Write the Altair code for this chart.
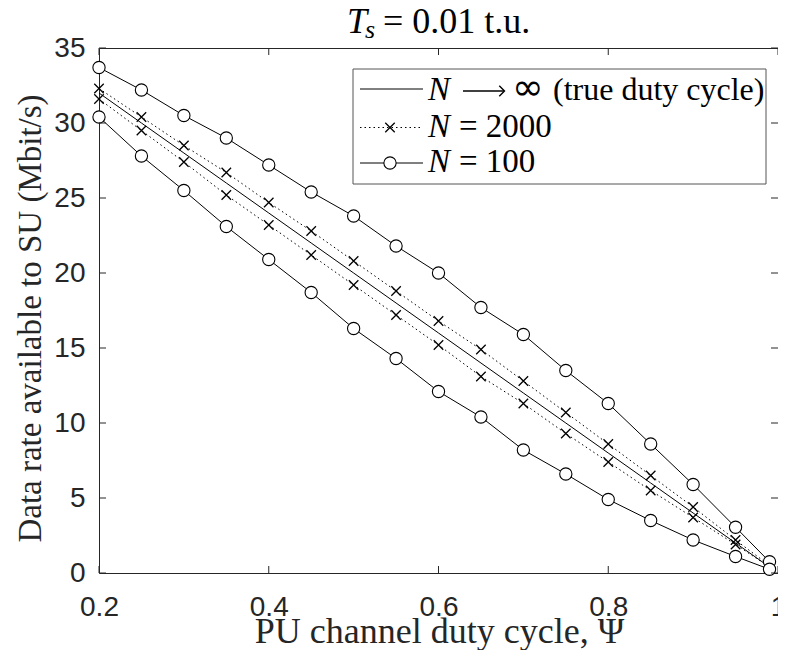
import altair as alt
import pandas as pd

# ---------------- data ----------------
psi = [0.2, 0.25, 0.3, 0.35, 0.4, 0.45, 0.5, 0.55, 0.6, 0.65, 0.7, 0.75, 0.8, 0.85, 0.9, 0.95, 0.99]

rate_true = [32.0, 30.0, 28.0, 26.0, 24.0, 22.0, 20.0, 18.0, 16.0, 14.0, 12.0, 10.0, 8.0, 6.0, 4.0, 2.0, 0.4]
rate_n2000_hi = [32.3, 30.4, 28.5, 26.7, 24.7, 22.8, 20.8, 18.8, 16.8, 14.9, 12.8, 10.7, 8.6, 6.5, 4.4, 2.2, 0.5]
rate_n2000_lo = [31.6, 29.5, 27.4, 25.2, 23.2, 21.2, 19.2, 17.2, 15.2, 13.1, 11.3, 9.3, 7.4, 5.5, 3.7, 1.9, 0.4]
rate_n100_hi = [33.7, 32.2, 30.5, 29.0, 27.2, 25.4, 23.8, 21.8, 20.0, 17.7, 15.9, 13.5, 11.3, 8.6, 5.9, 3.05, 0.75]
rate_n100_lo = [30.4, 27.8, 25.5, 23.1, 20.9, 18.7, 16.3, 14.3, 12.1, 10.4, 8.2, 6.6, 4.9, 3.5, 2.2, 1.1, 0.25]

x_ticks = [0.2, 0.4, 0.6, 0.8, 1.0]
y_ticks = [0, 5, 10, 15, 20, 25, 30, 35]

x_title = "PU channel duty cycle, Ψ"
y_title = "Data rate available to SU (Mbit/s)"

# ---------------- build tables ----------------
rows = []
for name, vals in [("true", rate_true), ("n2000_hi", rate_n2000_hi), ("n2000_lo", rate_n2000_lo),
                   ("n100_hi", rate_n100_hi), ("n100_lo", rate_n100_lo)]:
    for p, v in zip(psi, vals):
        rows.append({"psi": p, "rate": v, "series": name})
df = pd.DataFrame(rows)
xt = pd.DataFrame({"psi": x_ticks})
yt = pd.DataFrame({"rate": y_ticks})
one = pd.DataFrame({"k": [0]})

W, H = 679, 525
AX = "#262626"
SERIF = "Liberation Serif"
SANS = "Liberation Sans"
XSHAPE = "M-1,-1L1,1M1,-1L-1,1"
HEAD = "M-1,-1L0,0L-1,1"

xs = alt.Scale(domain=[0.2, 1.0], nice=False, zero=False)
ys = alt.Scale(domain=[0, 35], nice=False, zero=False)

x_axis = alt.Axis(
    values=x_ticks, format="~g", grid=False, ticks=False, domain=False,
    labelFont=SANS, labelFontSize=28, labelColor=AX, labelPadding=20,
    labelFlush=False, labelOverlap=False,
    title=x_title, titleFont=SERIF, titleFontSize=36, titleFontWeight="normal",
    titleColor=AX, titleX=340, titleY=69, titleBaseline="alphabetic", titleAlign="center")
y_axis = alt.Axis(
    values=y_ticks, format="d", grid=False, ticks=False, domain=False,
    labelFont=SANS, labelFontSize=28, labelColor=AX, labelPadding=14,
    labelFlush=False, labelOverlap=False,
    title=y_title, titleFont=SERIF, titleFontSize=33, titleFontWeight="normal",
    titleColor=AX, titleX=-59, titleY=270, titleAngle=270,
    titleBaseline="alphabetic", titleAlign="center")

x_enc = alt.X("psi:Q", scale=xs, axis=x_axis)
y_enc = alt.Y("rate:Q", scale=ys, axis=y_axis)

base = alt.Chart(df)

line_true = base.transform_filter(alt.datum.series == "true").mark_line(
    color="black", strokeWidth=1).encode(x=x_enc, y=y_enc)
line_2000 = base.transform_filter(
    alt.FieldOneOfPredicate(field="series", oneOf=["n2000_hi", "n2000_lo"])).mark_line(
    color="black", strokeWidth=1, strokeDash=[1.5, 3]).encode(x=x_enc, y=y_enc, detail="series:N")
line_100 = base.transform_filter(
    alt.FieldOneOfPredicate(field="series", oneOf=["n100_hi", "n100_lo"])).mark_line(
    color="black", strokeWidth=1).encode(x=x_enc, y=y_enc, detail="series:N")
pts_2000 = base.transform_filter(
    alt.FieldOneOfPredicate(field="series", oneOf=["n2000_hi", "n2000_lo"])).mark_point(
    shape=XSHAPE, size=90, filled=False, stroke="black", strokeWidth=1.3, opacity=1).encode(
    x=x_enc, y=y_enc)
pts_100 = base.transform_filter(
    alt.FieldOneOfPredicate(field="series", oneOf=["n100_hi", "n100_lo"])).mark_point(
    shape="circle", size=150, filled=True, fill="white", stroke="black", strokeWidth=1.1,
    opacity=1, fillOpacity=1).encode(x=x_enc, y=y_enc)

# inward ticks (MATLAB box style)
tick_len = 7
tb = alt.Chart(xt).mark_rule(color=AX, strokeWidth=1).encode(
    x=x_enc, y=alt.value(H), y2=alt.value(H - tick_len))
tt = alt.Chart(xt).mark_rule(color=AX, strokeWidth=1).encode(
    x=x_enc, y=alt.value(0), y2=alt.value(tick_len))
tl = alt.Chart(yt).mark_rule(color=AX, strokeWidth=1).encode(
    y=y_enc, x=alt.value(0), x2=alt.value(tick_len))
tr = alt.Chart(yt).mark_rule(color=AX, strokeWidth=1).encode(
    y=y_enc, x=alt.value(W), x2=alt.value(W - tick_len))


def txt(s, x, y, size, italic=False, font=SERIF):
    return alt.Chart(one).mark_text(
        font=font, fontSize=size, fontStyle="italic" if italic else "normal",
        align="left", baseline="alphabetic", color="black").encode(
        x=alt.value(x), y=alt.value(y), text=alt.value(s))


# title  T_s = 0.01 t.u.
title_layers = [
    txt("T", 248, -15, 36, italic=True),
    txt("s", 266, -10, 26, italic=True),
    txt("= 0.01 t.u.", 284, -15, 36),
]

# legend
leg_box = alt.Chart(one).mark_rect(fill="white", stroke="#555555", strokeWidth=1).encode(
    x=alt.value(254), x2=alt.value(667), y=alt.value(21), y2=alt.value(136))
LX1, LX2, LM, LT = 261, 324, 291, 329
r1, r2, r3 = 41, 79.5, 115
leg_layers = [
    leg_box,
    alt.Chart(one).mark_rule(color="black", strokeWidth=1).encode(
        x=alt.value(LX1), x2=alt.value(LX2), y=alt.value(r1)),
    alt.Chart(one).mark_rule(color="black", strokeWidth=1, strokeDash=[1.5, 3]).encode(
        x=alt.value(LX1), x2=alt.value(LX2), y=alt.value(r2)),
    alt.Chart(one).mark_point(shape=XSHAPE, size=90, filled=False, stroke="black",
                              strokeWidth=1.3, opacity=1).encode(
        x=alt.value(LM), y=alt.value(r2)),
    alt.Chart(one).mark_rule(color="black", strokeWidth=1).encode(
        x=alt.value(LX1), x2=alt.value(LX2), y=alt.value(r3)),
    alt.Chart(one).mark_point(shape="circle", size=150, filled=True, fill="white",
                              stroke="black", strokeWidth=1.1, opacity=1).encode(
        x=alt.value(LM), y=alt.value(r3)),
    txt("N", LT, r1 + 11, 33, italic=True),
    # arrow  →
    alt.Chart(one).mark_rule(color="black", strokeWidth=1.4).encode(
        x=alt.value(364), x2=alt.value(405), y=alt.value(r1 + 2)),
    alt.Chart(one).mark_point(shape=HEAD, size=110, filled=False, stroke="black",
                              strokeWidth=1.4, opacity=1).encode(
        x=alt.value(405.5), y=alt.value(r1 + 2)),
    txt("∞", 413, r1 + 11, 38, font="DejaVu Sans"),
    txt("(true duty cycle)", 454, r1 + 11, 32),
    txt("N", LT, r2 + 9.5, 33, italic=True),
    txt("= 2000", 360, r2 + 9.5, 33),
    txt("N", LT, r3 + 9, 33, italic=True),
    txt("= 100", 360, r3 + 9, 33),
]

chart = alt.layer(
    line_true, line_2000, line_100, pts_2000, pts_100,
    tb, tt, tl, tr, *title_layers, *leg_layers
).properties(
    width=W, height=H,
    padding={"left": 91, "top": 40, "right": 0, "bottom": 77},
    autosize=alt.AutoSizeParams(type="none"),
    background="white",
).configure_view(stroke=AX, strokeWidth=1)

chart.save("out.html", embed_options={"renderer": "svg", "actions": False})
